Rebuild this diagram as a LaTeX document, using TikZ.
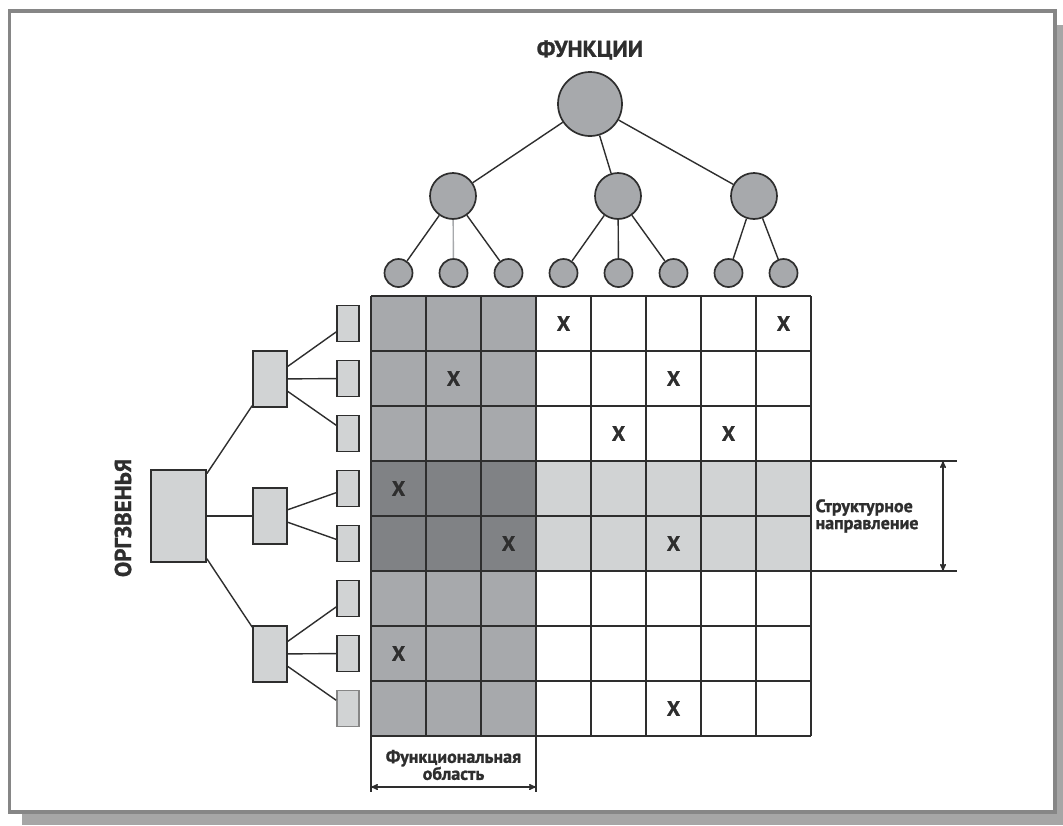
\documentclass[tikz,border=0pt]{standalone}
\usepackage{fontspec}
\setmainfont{PT Sans}[BoldFeatures={FakeBold=1.2}]
\usepackage{tikz}
\usetikzlibrary{arrows,%
		positioning,%
		shapes}
\definecolor{linea}{HTML}{2E2E2E}
\definecolor{medio}{HTML}{A7A9AC}
\definecolor{scuro}{HTML}{808285}
\definecolor{chiaro}{HTML}{D1D3D4}
\definecolor{ombra}{HTML}{A6A6A6}
\definecolor{bordo}{HTML}{868686}
\tikzset{funz/.style={circle,draw=linea,fill=medio,line width=1.7pt,inner sep=0pt},
	org/.style={rectangle,draw=linea,fill=chiaro,line width=1.7pt,inner sep=0pt},
	ramo/.style={draw=linea,line width=1.4pt},
	griglia/.style={draw=linea,line width=1.8pt},
	segno/.style={font=\fontsize{21}{25}\selectfont\bfseries,text=linea},
	titolo/.style={font=\fontsize{23}{27}\selectfont\bfseries,text=linea},
	etichetta/.style={font=\fontsize{18}{21}\selectfont\bfseries,text=linea}}
\begin{document}
\begin{tikzpicture}[x=1pt,y=-1pt]
%Cornice
\useasboundingbox (0,0) rectangle (1063,825);
\fill[ombra] (22,25) rectangle (1063,825);
\draw[draw=bordo,fill=white,line width=3.5pt] (9.5,11) rectangle (1055,812);
%Matrice
\fill[medio] (371,296) rectangle (536,736);
\fill[scuro] (371,461) rectangle (536,571);
\fill[chiaro] (536,461) rectangle (811,571);
\foreach \i in {0,...,8}{
	\draw[griglia] ({371+55*\i},296) -- ({371+55*\i},736);
	\draw[griglia] (371,{296+55*\i}) -- (811,{296+55*\i});}
\foreach \c/\r in {4/1,8/1,2/2,6/2,5/3,7/3,1/4,3/5,6/5,1/7,6/8}
	\node[segno] (x\c\r) at ({398.5+55*(\c-1)},{323.5+55*(\r-1)}) {X};
%Funzioni
\node[titolo] (titf) at (590,50) {ФУНКЦИИ};
\node[funz,minimum size=64pt] (f0) at (590,104) {};
\node[funz,minimum size=46pt] (f1) at (453,196) {};
\node[funz,minimum size=46pt] (f2) at (618,196) {};
\node[funz,minimum size=46pt] (f3) at (754,196) {};
\foreach \c in {1,...,8}
	\node[funz,minimum size=28pt] (s\c) at ({398.5+55*(\c-1)},273) {};
\draw[ramo] (f0) -- (f1);
\draw[ramo] (f0) -- (f2);
\draw[ramo] (f0) -- (f3);
\draw[ramo] (f1) -- (s1);
\draw[ramo,draw=medio] (f1) -- (s2);
\draw[ramo] (f1) -- (s3);
\draw[ramo] (f2) -- (s4);
\draw[ramo] (f2) -- (s5);
\draw[ramo] (f2) -- (s6);
\draw[ramo] (f3) -- (s7);
\draw[ramo] (f3) -- (s8);
%Organizzazione
\node[titolo,rotate=90] (tito) at (123,518) {ОРГЗВЕНЬЯ};
\node[org,minimum width=55pt,minimum height=92pt] (o0) at (178.5,516) {};
\node[org,minimum width=34pt,minimum height=56pt] (o1) at (270,379) {};
\node[org,minimum width=34pt,minimum height=56pt] (o2) at (270,516) {};
\node[org,minimum width=34pt,minimum height=56pt] (o3) at (270,654) {};
\foreach \r in {1,...,7}
	\node[org,minimum width=22pt,minimum height=36pt] (r\r) at (348,{323.5+55*(\r-1)}) {};
\node[org,draw=bordo,minimum width=22pt,minimum height=36pt] (r8) at (348,708.5) {};
\draw[ramo] (o0) -- (o1);
\draw[ramo] (o0) -- (o2);
\draw[ramo] (o0) -- (o3);
\draw[ramo] (o1) -- (r1);
\draw[ramo] (o1) -- (r2);
\draw[ramo] (o1) -- (r3);
\draw[ramo] (o2) -- (r4);
\draw[ramo] (o2) -- (r5);
\draw[ramo] (o3) -- (r6);
\draw[ramo] (o3) -- (r7);
\draw[ramo] (o3) -- (r8);
%Area funzionale
\coordinate (a1) at (371,736);
\coordinate (a2) at (536,736);
\coordinate (a3) at (371,792);
\coordinate (a4) at (536,792);
\draw[ramo] (a1) -- (a3);
\draw[ramo] (a2) -- (a4);
\draw[ramo,stealth'-stealth'] (371,787) -- (536,787);
\node[etichetta,align=center] (af) at (453.5,765) {Функциональная\\[-4pt]область};
%Direzione strutturale
\coordinate (d1) at (811,461);
\coordinate (d2) at (957,461);
\coordinate (d3) at (811,571);
\coordinate (d4) at (957,571);
\draw[ramo] (d1) -- (d2);
\draw[ramo] (d3) -- (d4);
\draw[ramo,stealth'-stealth'] (943,461) -- (943,571);
\node[etichetta,align=left,anchor=west] (ds) at (812,516) {Структурное\\[-4pt]направление};
\end{tikzpicture}
\end{document}
